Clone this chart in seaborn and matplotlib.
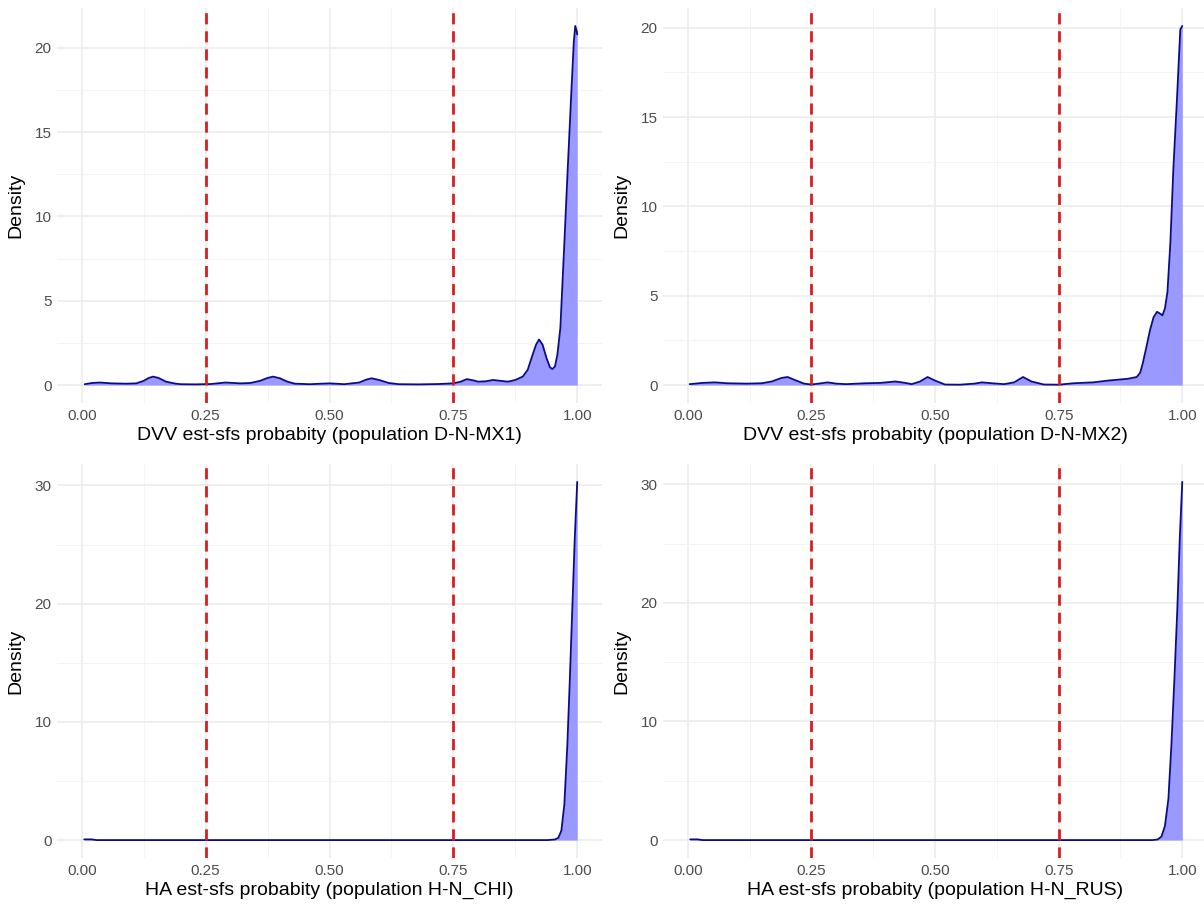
import numpy as np
import pandas as pd
import matplotlib
matplotlib.use("Agg")
import matplotlib.pyplot as plt
from matplotlib.ticker import MultipleLocator
import seaborn as sns

# ---- data ----
x_mx1 = [0.006, 0.02, 0.036, 0.06, 0.09, 0.11, 0.125, 0.135, 0.144, 0.155, 0.17, 0.19, 0.2, 0.23, 0.26, 0.29,
         0.32, 0.34, 0.36, 0.375, 0.386, 0.40, 0.415, 0.43, 0.46, 0.50, 0.53, 0.56, 0.575, 0.585, 0.60, 0.62,
         0.64, 0.68, 0.72, 0.75, 0.765, 0.777, 0.79, 0.80, 0.815, 0.83, 0.845, 0.86, 0.875, 0.89, 0.90, 0.91,
         0.917, 0.923, 0.93, 0.938, 0.945, 0.95, 0.955, 0.96, 0.966, 0.974, 0.98, 0.988, 0.993, 0.996, 0.999, 1.0]
y_mx1 = [0.05, 0.12, 0.15, 0.1, 0.08, 0.1, 0.25, 0.42, 0.5, 0.42, 0.2, 0.08, 0.05, 0.04, 0.06, 0.15,
         0.1, 0.12, 0.25, 0.42, 0.5, 0.4, 0.2, 0.08, 0.05, 0.1, 0.05, 0.15, 0.33, 0.4, 0.3, 0.12,
         0.05, 0.04, 0.06, 0.1, 0.2, 0.35, 0.28, 0.2, 0.22, 0.3, 0.25, 0.2, 0.3, 0.5, 0.9, 1.8,
         2.4, 2.7, 2.4, 1.6, 1.05, 0.95, 1.1, 1.8, 3.4, 8.4, 12.3, 17.3, 20.3, 21.3, 21.0, 20.8]

x_mx2 = [0.004, 0.03, 0.055, 0.08, 0.12, 0.15, 0.17, 0.19, 0.202, 0.215, 0.235, 0.25, 0.265, 0.283, 0.30,
         0.32, 0.36, 0.39, 0.42, 0.44, 0.453, 0.47, 0.485, 0.50, 0.52, 0.55, 0.58, 0.595, 0.615, 0.64,
         0.66, 0.678, 0.695, 0.72, 0.75, 0.78, 0.82, 0.85, 0.87, 0.89, 0.908, 0.915, 0.92, 0.928, 0.935,
         0.942, 0.949, 0.955, 0.96, 0.965, 0.97, 0.976, 0.982, 0.99, 0.996, 1.0]
y_mx2 = [0.05, 0.12, 0.15, 0.1, 0.08, 0.1, 0.2, 0.4, 0.45, 0.3, 0.08, 0.03, 0.08, 0.15, 0.08,
         0.05, 0.1, 0.12, 0.2, 0.12, 0.05, 0.2, 0.45, 0.25, 0.03, 0.02, 0.08, 0.15, 0.1, 0.05,
         0.15, 0.45, 0.2, 0.03, 0.02, 0.1, 0.15, 0.25, 0.3, 0.35, 0.45, 0.7, 1.2, 2.2, 3.1,
         3.8, 4.1, 4.0, 3.9, 4.3, 5.2, 8.0, 12.1, 16.4, 19.9, 20.1]

x_chi = [0.005, 0.02, 0.03, 0.1, 0.3, 0.5, 0.7, 0.9, 0.94, 0.955, 0.962, 0.968, 0.974, 0.98, 0.985,
         0.99, 0.995, 1.0]
y_chi = [0.06, 0.06, 0.0, 0.0, 0.0, 0.0, 0.0, 0.0, 0.0, 0.05, 0.2, 0.8, 3.0, 8.0, 13.5, 19.5, 25.5, 30.3]

x_rus = [0.005, 0.02, 0.03, 0.1, 0.3, 0.5, 0.7, 0.9, 0.94, 0.95, 0.958, 0.965, 0.972, 0.978, 0.984,
         0.99, 0.995, 1.0]
y_rus = [0.06, 0.06, 0.0, 0.0, 0.0, 0.0, 0.0, 0.0, 0.0, 0.05, 0.3, 1.2, 3.5, 8.0, 13.5, 19.5, 25.5, 30.2]

panels = [
    ("DVV est-sfs probabity (population D-N-MX1)", x_mx1, y_mx1, 5),
    ("DVV est-sfs probabity (population D-N-MX2)", x_mx2, y_mx2, 5),
    ("HA est-sfs probabity (population H-N_CHI)", x_chi, y_chi, 10),
    ("HA est-sfs probabity (population H-N_RUS)", x_rus, y_rus, 10),
]
cutoffs = [0.25, 0.75]
x_ticks = [0.0, 0.25, 0.5, 0.75, 1.0]
x_ticklabels = ["0.00", "0.25", "0.50", "0.75", "1.00"]

# ---- style ----
sns.set_theme(style="white")
plt.rcParams["font.family"] = ["Liberation Sans", "DejaVu Sans"]

W, H = 1204, 906
fig = plt.figure(figsize=(W / 100, H / 100), dpi=100)

# axes rectangles in pixels: (left, top, right, bottom)
rects = [(57, 8, 602, 403), (663, 8, 1207, 403), (57, 464, 602, 858), (663, 464, 1207, 858)]

grid_col = "#EBEBEB"
fill_col = "#9999FF"
line_col = "#0B0B8A"
red_col = "#D81E1E"

for (label, xs, ys, ystep), (l, t, r, b) in zip(panels, rects):
    ax = fig.add_axes([l / W, 1 - b / H, (r - l) / W, (b - t) / H])
    df = pd.DataFrame({"x": xs, "density": ys})
    ymax = max(ys)
    ax.set_xlim(-0.05, 1.05)
    ax.set_ylim(-0.05 * ymax, ymax * 1.05)

    ax.xaxis.set_major_locator(MultipleLocator(0.25))
    ax.xaxis.set_minor_locator(MultipleLocator(0.125))
    ax.yaxis.set_major_locator(MultipleLocator(ystep))
    ax.yaxis.set_minor_locator(MultipleLocator(ystep / 2))
    ax.grid(True, which="major", color=grid_col, linewidth=1.1)
    ax.grid(True, which="minor", color="#F3F3F3", linewidth=0.6)
    ax.set_axisbelow(True)
    for s in ax.spines.values():
        s.set_visible(False)

    ax.fill_between(df["x"], df["density"], 0, color=fill_col, linewidth=0, zorder=2)
    sns.lineplot(data=df, x="x", y="density", ax=ax, color=line_col, linewidth=1.3, zorder=3)
    for c in cutoffs:
        ax.axvline(c, color=red_col, linewidth=2.0, linestyle=(0, (4, 2.5)), zorder=4)

    ax.set_xticks(x_ticks)
    ax.set_xticklabels(x_ticklabels)
    ax.tick_params(axis="both", which="both", length=0, labelsize=11, labelcolor="#4D4D4D", pad=4)
    ax.set_xlabel(label, fontsize=14, color="black", labelpad=3)
    ax.set_ylabel("Density", fontsize=14, color="black", labelpad=7)

fig.savefig("out.png", dpi=100)
